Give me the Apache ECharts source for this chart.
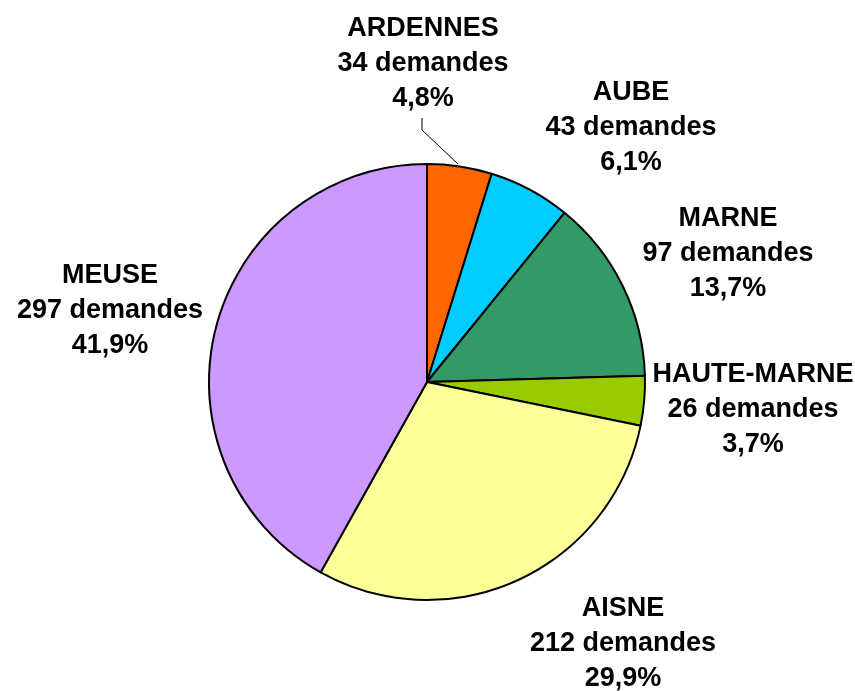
<!DOCTYPE html>
<html>
<head>
<meta charset="utf-8">
<script src="https://cdn.jsdelivr.net/npm/echarts@6/dist/echarts.min.js"></script>
<style>
  html, body { margin: 0; padding: 0; background: #fff; }
  #chart { width: 855px; height: 691px; }
</style>
</head>
<body>
<div id="chart"></div>
<script>
// departements, clockwise from 12 o'clock
let names = ['ARDENNES', 'AUBE', 'MARNE', 'HAUTE-MARNE', 'AISNE', 'MEUSE']
let demandes = [34, 43, 97, 26, 212, 297]
let colors = ['#FF6600', '#00CCFF', '#339966', '#99CC00', '#FFFF99', '#CC99FF']

// label centre positions (px)
let labelX = [423, 631, 728, 753, 623, 110]
let labelY = [64, 128, 254, 410, 644, 311]

let total = demandes.reduce((a, b) => a + b, 0)

let chart = echarts.init(document.getElementById('chart'))
let option = {
  animation: false,
  series: [
    {
      type: 'pie',
      center: [427, 382],
      radius: 218,
      startAngle: 90,
      clockwise: true,
      itemStyle: {
        borderColor: '#000',
        borderWidth: 2
      },
      label: {
        show: true,
        position: 'outside',
        overflow: 'none',
        edgeDistance: 0,
        color: '#000',
        fontFamily: 'Liberation Sans, Arial',
        fontWeight: 'bold',
        fontSize: 27,
        lineHeight: 35,
        align: 'center',
        formatter: function (p) {
          let pct = (p.value / total * 100).toFixed(1).replace('.', ',')
          return p.name + '\n' + p.value + ' demandes\n' + pct + '%'
        }
      },
      labelLine: {show: false},
      labelLayout: function (params) {
        let i = params.dataIndex
        let res = {x: labelX[i], y: labelY[i], align: 'center', verticalAlign: 'middle'}
        if (i === 0) {
          res.labelLinePoints = [[422, 118], [422, 130], [458, 164]]
        }
        return res
      },
      data: names.map((n, i) => ({
        name: n,
        value: demandes[i],
        itemStyle: {color: colors[i]},
        labelLine: i === 0 ? {show: true, lineStyle: {color: '#000', width: 1}} : {show: false}
      }))
    }
  ]
}
chart.setOption(option)
</script>
</body>
</html>
